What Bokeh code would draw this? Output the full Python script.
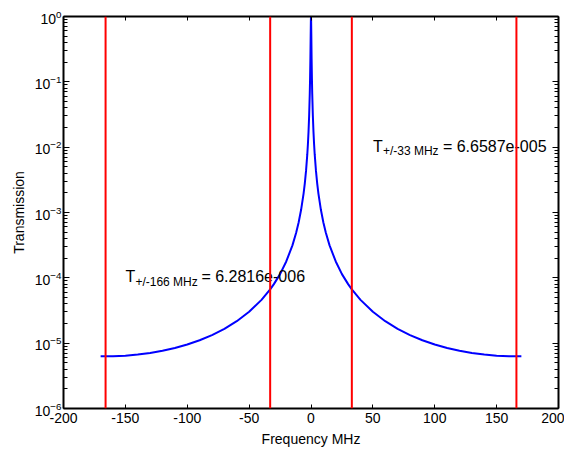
from bokeh.plotting import figure
from bokeh.models import (Range1d, FixedTicker, LinearAxis, LogAxis, Span, Label,
                          CustomJSTickFormatter, LogTickFormatter)
from bokeh.embed import file_html
from bokeh.resources import INLINE

# ---------------- data ----------------
freq_mhz = [-170, -166, -160, -150, -140, -130, -120, -110, -100, -90, -80, -70, -60, -50,
            -40, -33, -30, -25, -20, -15, -12, -10, -8, -6, -5, -4, -3, -2.5, -2, -1.5,
            -1, -0.75, -0.5, -0.25, -0.1, 0, 0.1, 0.25, 0.5, 0.75, 1, 1.5, 2, 2.5, 3,
            4, 5, 6, 8, 10, 12, 15, 20, 25, 30, 33, 40, 50, 60, 70, 80, 90, 100, 110,
            120, 130, 140, 150, 160, 166, 170]
transmission = [6.29e-6, 6.28e-6, 6.30e-6, 6.43e-6, 6.68e-6, 7.07e-6, 7.64e-6, 8.44e-6,
                9.54e-6, 1.11e-5, 1.33e-5, 1.66e-5, 2.17e-5, 3.02e-5, 4.60e-5, 6.66e-5,
                8.01e-5, 1.14e-4, 1.78e-4, 3.14e-4, 4.89e-4, 7.03e-4, 1.10e-3, 1.95e-3,
                2.80e-3, 4.37e-3, 7.74e-3, 1.11e-2, 1.72e-2, 3.02e-2, 6.56e-2, 0.111,
                0.219, 0.529, 0.875, 1.0, 0.875, 0.529, 0.219, 0.111, 6.56e-2, 3.02e-2,
                1.72e-2, 1.11e-2, 7.74e-3, 4.37e-3, 2.80e-3, 1.95e-3, 1.10e-3, 7.03e-4,
                4.89e-4, 3.14e-4, 1.78e-4, 1.14e-4, 8.01e-5, 6.66e-5, 4.60e-5, 3.02e-5,
                2.17e-5, 1.66e-5, 1.33e-5, 1.11e-5, 9.54e-6, 8.44e-6, 7.64e-6, 7.07e-6,
                6.68e-6, 6.43e-6, 6.30e-6, 6.28e-6, 6.29e-6]
marker_freqs = [-166, -33, 33, 166]

x_ticks = [-200, -150, -100, -50, 0, 50, 100, 150, 200]
x_tick_labels = ["-200", "-150", "-100", "-50", "0", "50", "100", "150", "200"]
y_ticks = [1e-6, 1e-5, 1e-4, 1e-3, 1e-2, 1e-1, 1e0]

ann_x = [-150, 50]
ann_y = [1e-4, 1e-2]
ann_main = ["T", "T"]
ann_sub = ["+/-166 MHz", "+/-33 MHz"]
ann_val = ["= 6.2816e-006", "= 6.6587e-005"]

# ---------------- styling ----------------
FONT = "Liberation Sans"
val_offsets = [76, 70]

p = figure(width=564, height=449, x_range=Range1d(-200, 200), y_range=Range1d(1e-6, 1),
           y_axis_type="log", output_backend="svg", toolbar_location=None,
           min_border_left=63, min_border_right=6, min_border_top=16, min_border_bottom=38)
p.grid.visible = False
p.outline_line_color = None
p.background_fill_color = "white"
p.border_fill_color = "white"

xa = p.below[0]
xa.ticker = FixedTicker(ticks=x_ticks)
xa.major_label_overrides = {t: s for t, s in zip(x_ticks, x_tick_labels)}
xa.major_label_text_font = FONT
xa.major_label_text_font_size = "14px"
xa.major_label_text_color = "black"
xa.major_label_standoff = 4
xa.major_tick_in = 4
xa.major_tick_out = 0
xa.minor_tick_in = 0
xa.minor_tick_out = 0
xa.axis_line_width = 2
xa.axis_label = "Frequency MHz"
xa.axis_label_text_font = FONT
xa.axis_label_text_font_size = "14px"
xa.axis_label_text_font_style = "normal"
xa.axis_label_text_color = "black"
xa.axis_label_standoff = 5

minor = [k * t for t in y_ticks[:-1] for k in range(2, 10)]
ya = p.left[0]
ya.ticker = FixedTicker(ticks=y_ticks, minor_ticks=minor)
ya.formatter = LogTickFormatter()
ya.major_label_text_font = FONT
ya.major_label_text_font_size = "14px"
ya.major_label_text_color = "black"
ya.major_label_standoff = 2
ya.major_tick_in = 6
ya.major_tick_out = 0
ya.minor_tick_in = 4
ya.minor_tick_out = 0
ya.axis_line_width = 2
ya.axis_label = "Transmission"
ya.axis_label_text_font = FONT
ya.axis_label_text_font_size = "14px"
ya.axis_label_text_font_style = "normal"
ya.axis_label_text_color = "black"
ya.axis_label_standoff = 5

top = LinearAxis(ticker=FixedTicker(ticks=x_ticks), formatter=CustomJSTickFormatter(code="return ''"),
                 major_tick_in=4, major_tick_out=0, minor_tick_in=0, minor_tick_out=0,
                 major_label_standoff=0, axis_line_width=2)
p.add_layout(top, "above")
right = LogAxis(ticker=FixedTicker(ticks=y_ticks, minor_ticks=minor),
                formatter=CustomJSTickFormatter(code="return ''"),
                major_tick_in=6, major_tick_out=0, minor_tick_in=4, minor_tick_out=0,
                major_label_standoff=0, axis_line_width=2)
p.add_layout(right, "right")

# curve
p.line(freq_mhz, transmission, line_color="#0000ff", line_width=2)

# annotations
for x, y, m, s, v, vo in zip(ann_x, ann_y, ann_main, ann_sub, ann_val, val_offsets):
    p.add_layout(Label(x=x, y=y, text=m, text_align="left", text_baseline="middle", y_offset=1,
                       text_font=FONT, text_font_size="16px", text_color="black"))
    p.add_layout(Label(x=x, y=y, x_offset=10, y_offset=-4, text=s, text_align="left",
                       text_baseline="middle", text_font=FONT, text_font_size="12px",
                       text_color="black"))
    p.add_layout(Label(x=x, y=y, x_offset=vo, y_offset=1, text=v, text_align="left",
                       text_baseline="middle", text_font=FONT, text_font_size="16px",
                       text_color="black"))

# marker lines
for f in marker_freqs:
    p.add_layout(Span(location=f, dimension="height", line_color="#ff0000", line_width=2))

open("out.html", "w").write(file_html(p, INLINE))
